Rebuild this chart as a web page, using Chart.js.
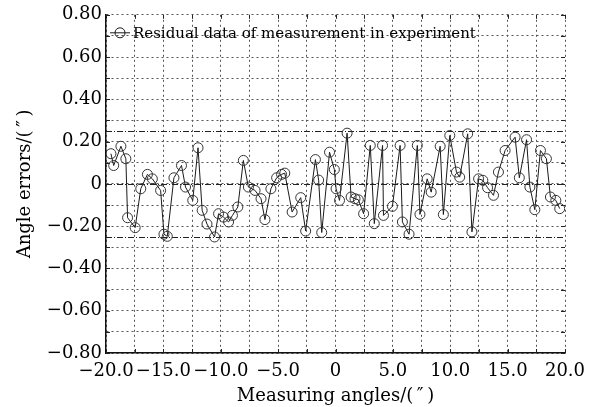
<!DOCTYPE html>
<html>
<head>
<meta charset="utf-8">
<script src="https://cdn.jsdelivr.net/npm/chart.js@4.4.0/dist/chart.umd.min.js"></script>
<style>
  html, body { margin: 0; padding: 0; background: #fff; }
  canvas { display: block; }
</style>
</head>
<body>
<canvas id="chart" width="600" height="407"></canvas>
<script>
  // Messwinkel (″) und zugehoerige Restfehler (″)
  const ANGLES = [
    -19.57, -19.33, -18.70, -18.27, -18.12, -17.46, -16.97, -16.39, -15.96, -15.24,
    -14.95, -14.66, -14.08, -13.42, -13.07, -12.44, -11.98, -11.62, -11.20, -10.54,
    -10.19, -9.76, -9.32, -8.98, -8.51, -8.03, -7.59, -7.01, -6.49, -6.15,
    -5.63, -5.13, -4.70, -4.42, -3.78, -3.03, -2.60, -1.75, -1.47, -1.20,
    -0.52, -0.10, 0.05, 0.35, 1.01, 1.36, 1.70, 1.99, 2.45, 3.03,
    3.38, 4.10, 4.18, 4.96, 5.63, 5.83, 6.41, 7.13, 7.36, 7.99,
    8.34, 9.12, 9.40, 9.96, 10.54, 10.82, 11.52, 11.89, 12.47, 12.84,
    13.25, 13.77, 14.20, 14.78, 15.65, 16.02, 16.65, 16.94, 17.37, 17.86,
    18.38, 18.73, 19.20, 19.54
  ];
  const ERRORS = [
    0.143, 0.087, 0.178, 0.119, -0.160, -0.207, -0.023, 0.045, 0.024, -0.031,
    -0.238, -0.248, 0.029, 0.087, -0.015, -0.078, 0.171, -0.125, -0.190, -0.251,
    -0.141, -0.157, -0.180, -0.149, -0.109, 0.111, -0.015, -0.031, -0.070, -0.169,
    -0.023, 0.029, 0.045, 0.051, -0.133, -0.065, -0.223, 0.115, 0.018, -0.230,
    0.150, 0.068, -0.023, -0.078, 0.240, -0.062, -0.070, -0.075, -0.141, 0.182,
    -0.188, 0.182, -0.149, -0.106, 0.182, -0.180, -0.238, 0.182, -0.144, 0.024,
    -0.039, 0.178, -0.145, 0.229, 0.056, 0.032, 0.237, -0.227, 0.024, 0.017,
    -0.018, -0.054, 0.056, 0.158, 0.221, 0.029, 0.209, -0.015, -0.122, 0.158,
    0.119, -0.062, -0.078, -0.117
  ];
  const REF_LINES = [0.25, 0, -0.25];   // strichpunktierte Bezugslinien
  const LEGEND_TEXT = 'Residual data of measurement in experiment';

  const SERIF = '"DejaVu Serif", "Liberation Serif", serif';
  const INK = '#1a1a1a';

  function minus(v) { return v < 0 ? '\u2212' : ''; }

  // Strichpunkt-Linien, nach innen zeigende Ticks und Legende im Plotbereich
  const decor = {
    id: 'decor',
    beforeDatasetsDraw(chart) {
      const { ctx, chartArea: a, scales: { x, y } } = chart;
      ctx.save();
      ctx.strokeStyle = '#222';
      ctx.lineWidth = 1;
      ctx.setLineDash([6, 2, 1, 2]);
      REF_LINES.forEach(v => {
        const py = Math.round(y.getPixelForValue(v)) + 0.5;
        ctx.beginPath(); ctx.moveTo(a.left, py); ctx.lineTo(a.right, py); ctx.stroke();
      });
      ctx.setLineDash([]);
      x.ticks.forEach(t => {
        const px = Math.round(x.getPixelForValue(t.value)) + 0.5;
        ctx.beginPath();
        ctx.moveTo(px, a.top); ctx.lineTo(px, a.top + 4);
        ctx.moveTo(px, a.bottom); ctx.lineTo(px, a.bottom - 4);
        ctx.stroke();
      });
      y.ticks.forEach(t => {
        const py = Math.round(y.getPixelForValue(t.value)) + 0.5;
        ctx.beginPath();
        ctx.moveTo(a.left, py); ctx.lineTo(a.left + 4, py);
        ctx.moveTo(a.right, py); ctx.lineTo(a.right - 4, py);
        ctx.stroke();
      });
      ctx.restore();
    },
    afterDraw(chart) {
      const { ctx, chartArea: a } = chart;
      const ly = a.top + 18;
      const lx = a.left + 4;
      ctx.save();
      ctx.strokeStyle = INK;
      ctx.lineWidth = 1;
      ctx.beginPath(); ctx.moveTo(lx, ly); ctx.lineTo(lx + 20, ly); ctx.stroke();
      ctx.beginPath(); ctx.arc(lx + 10, ly, 5, 0, Math.PI * 2); ctx.stroke();
      ctx.fillStyle = '#000';
      ctx.font = '15px ' + SERIF;
      ctx.textBaseline = 'middle';
      ctx.fillText(LEGEND_TEXT, lx + 23, ly + 1);
      ctx.restore();
    }
  };

  new Chart(document.getElementById('chart'), {
    type: 'scatter',
    data: {
      datasets: [{
        label: LEGEND_TEXT,
        data: ANGLES.map((a, i) => ({ x: a, y: ERRORS[i] })),
        showLine: true,
        borderColor: INK,
        borderWidth: 1,
        pointStyle: 'circle',
        pointRadius: 5,
        pointBackgroundColor: 'rgba(255,255,255,0)',
        pointBorderColor: '#333',
        pointBorderWidth: 1
      }]
    },
    options: {
      responsive: false,
      animation: false,
      layout: { padding: { top: 14, right: 35, left: 0, bottom: 0 } },
      plugins: { legend: { display: false }, tooltip: { enabled: false } },
      scales: {
        x: {
          type: 'linear', min: -20, max: 20,
          afterFit: s => { s.height = 54; },
          ticks: {
            stepSize: 2.5, autoSkip: false, maxRotation: 0, padding: 8,
            color: '#000', font: { family: SERIF, size: 18 },
            callback: v => {
              if (Math.abs(v / 5 - Math.round(v / 5)) > 1e-6) return '';
              if (Math.abs(v) < 1e-9) return '0';
              return minus(v) + Math.abs(v).toFixed(1);
            }
          },
          grid: { color: '#555', lineWidth: 1, drawTicks: false },
          border: { display: true, color: '#111', width: 1.5, dash: [2, 3] },
          title: {
            display: true, text: 'Measuring angles/(\u2009\u2033\u2009)',
            color: '#000', font: { family: SERIF, size: 18 }, padding: { top: 0, bottom: 0 }
          }
        },
        y: {
          min: -0.8, max: 0.8,
          afterFit: s => { s.width = 106; },
          ticks: {
            stepSize: 0.1, autoSkip: false, padding: 4,
            color: '#000', font: { family: SERIF, size: 18 },
            callback: v => {
              const k = Math.round(v * 10);
              if (k % 2 !== 0) return '';
              if (k === 0) return '0';
              return minus(v) + Math.abs(v).toFixed(2);
            }
          },
          grid: { color: '#555', lineWidth: 1, drawTicks: false },
          border: { display: true, color: '#111', width: 1.5, dash: [2, 3] },
          title: {
            display: true, text: 'Angle errors/(\u2009\u2033\u2009)',
            color: '#000', font: { family: SERIF, size: 18 }, padding: { top: 15, bottom: 0 }
          }
        }
      }
    },
    plugins: [decor]
  });
</script>
</body>
</html>
